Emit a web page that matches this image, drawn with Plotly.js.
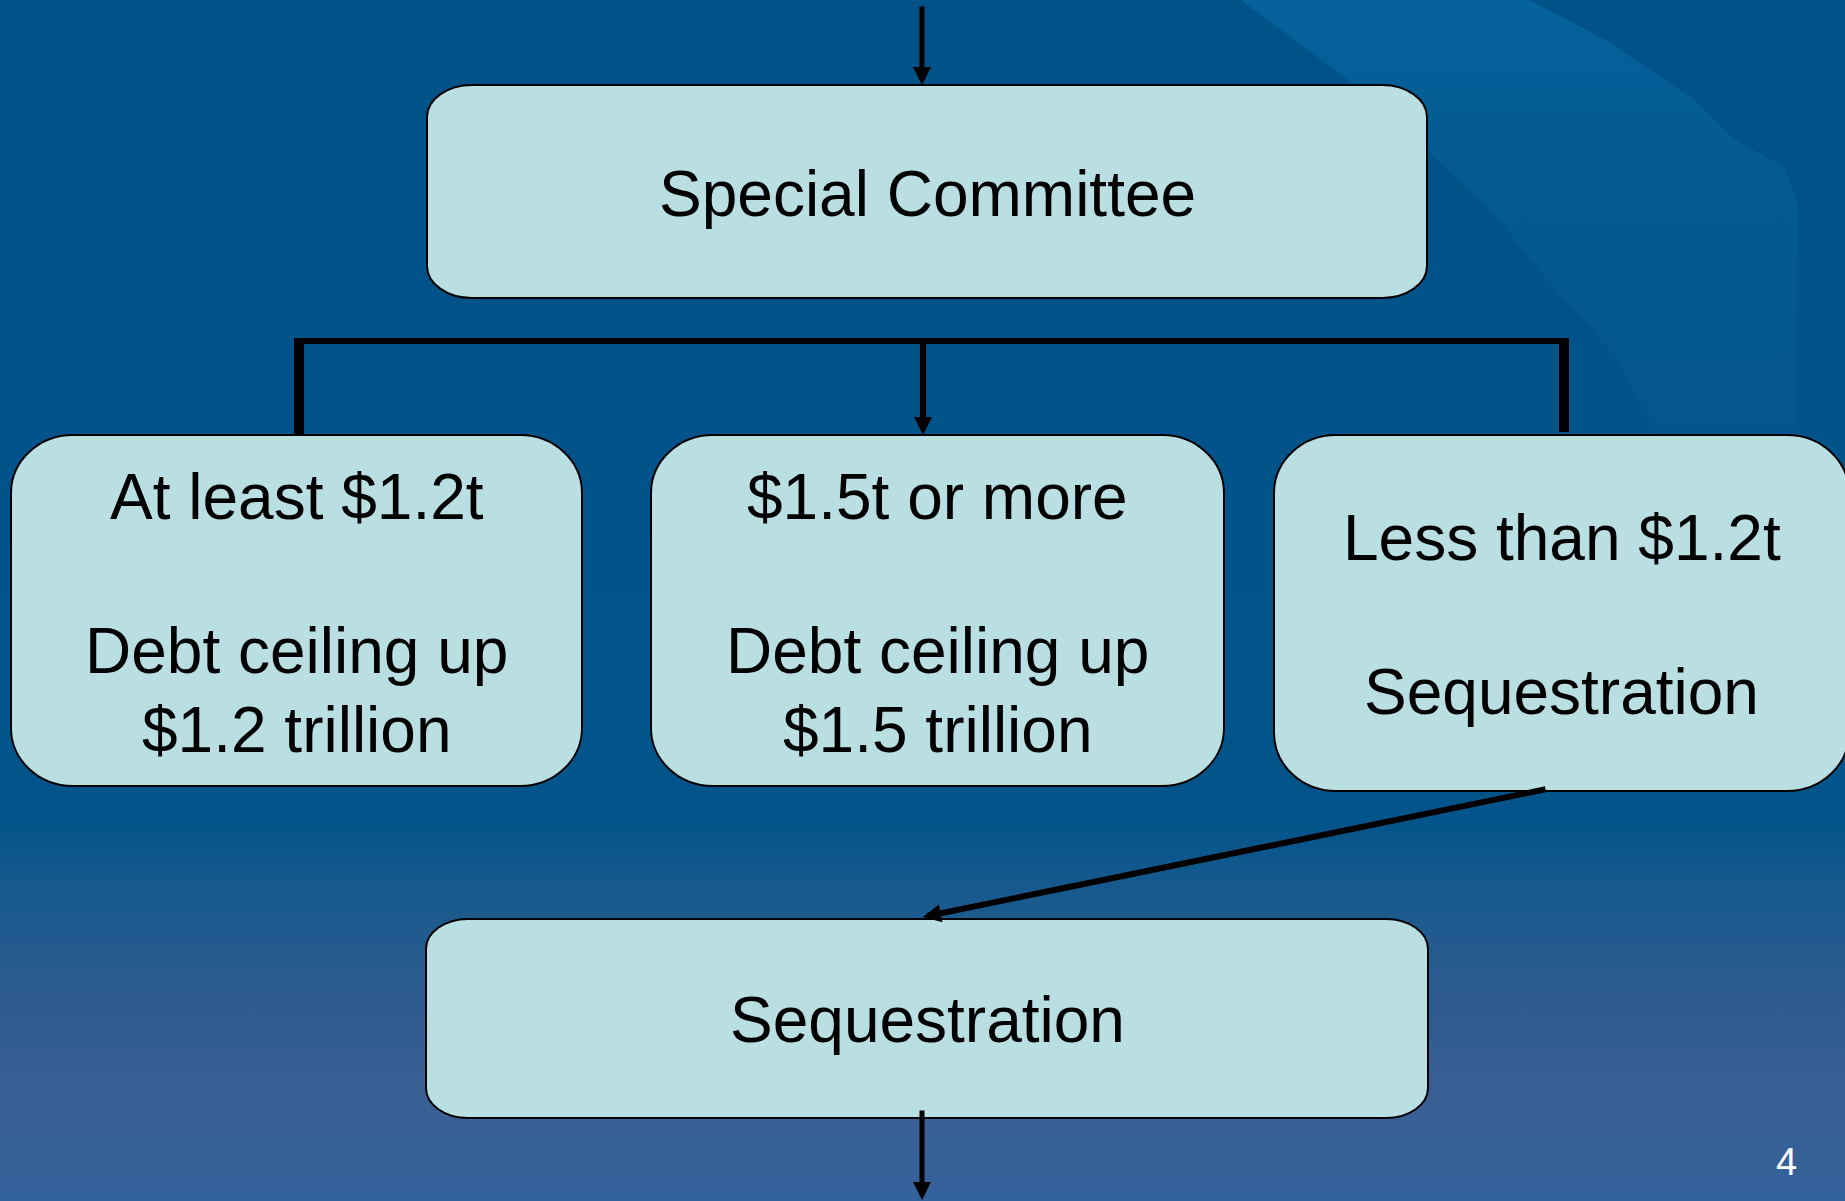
<!DOCTYPE html>
<html>
<head>
<meta charset="utf-8">
<script src="https://cdn.plot.ly/plotly-3.0.1.min.js"></script>
<style>
  html, body { margin: 0; padding: 0; background: #02528A; overflow: hidden; }
  #chart { width: 1845px; height: 1201px; }
</style>
</head>
<body>
<div id="chart"></div>
<script>
// ---------- DATA (text content) ----------
const boxTitles  = ["Special Committee", "At least $1.2t", "$1.5t or more", "Less than $1.2t", "Sequestration"];
const boxDetails = [[], ["Debt ceiling up", "$1.2 trillion"], ["Debt ceiling up", "$1.5 trillion"], ["Sequestration"], []];
const slideNumber = "4";

// ---------- GEOMETRY / STYLE (layout only) ----------
const W = 1845, H = 1201;
const FONT = "Liberation Sans, Arial, Helvetica, sans-serif";
const BOX_FILL = "#B9DFE3";

const boxGeom = [
  {x0: 427,  x1: 1427, y0: 85,  y1: 298,  rx: 45, ry: 32, lineY: [194]},
  {x0: 11,   x1: 582,  y0: 435, y1: 786,  rx: 62, ry: 58, lineY: [497, 651, 730]},
  {x0: 651,  x1: 1224, y0: 435, y1: 786,  rx: 62, ry: 58, lineY: [497, 651, 730]},
  {x0: 1274, x1: 1849, y0: 435, y1: 791,  rx: 62, ry: 58, lineY: [538, 692]},
  {x0: 426,  x1: 1428, y0: 919, y1: 1118, rx: 42, ry: 30, lineY: [1020]}
];

const connectorGeom = [
  {x0: 299,  y0: 341, x1: 1564, y1: 341, w: 6},
  {x0: 299,  y0: 338, x1: 299,  y1: 437, w: 10},
  {x0: 1564, y0: 338, x1: 1564, y1: 432, w: 10}
];

const arrowGeom = [
  {x: 922, y: 85,   ax: 922,  ay: 5,    w: 5, s: 0.72},
  {x: 923, y: 435,  ax: 923,  ay: 341,  w: 6, s: 0.6},
  {x: 923, y: 917,  ax: 1547, ay: 789,  w: 6, s: 0.6},
  {x: 922, y: 1200, ax: 922,  ay: 1109, w: 5, s: 0.72}
];

// background streak outlines (decoration)
const faintX = [1241, 1352, 1430, 1488, 1550, 1611, 1661, 1700, 1740, 1797, 1797, 1784, 1735, 1694, 1611, 1529, 1241];
const faintY = [0, 83, 153, 207, 283, 350, 440, 520, 600, 600, 200, 167, 140, 100, 43, 0, 0];
const bandX  = [1241, 1352, 1430, 1488, 1550, 1611, 1661, 1797, 1797, 1784, 1735, 1694, 1611, 1529, 1241];
const bandY  = [0, 83, 153, 207, 283, 350, 440, 440, 200, 167, 140, 100, 43, 0, 0];

// ---------- BUILD ----------
function roundRectPath(b) {
  const k = 0.5523;
  const {x0, x1, y0, y1, rx, ry} = b;
  return [
    `M${x0 + rx},${y0}`,
    `L${x1 - rx},${y0}`,
    `C${x1 - rx + k * rx},${y0} ${x1},${y0 + ry - k * ry} ${x1},${y0 + ry}`,
    `L${x1},${y1 - ry}`,
    `C${x1},${y1 - ry + k * ry} ${x1 - rx + k * rx},${y1} ${x1 - rx},${y1}`,
    `L${x0 + rx},${y1}`,
    `C${x0 + rx - k * rx},${y1} ${x0},${y1 - ry + k * ry} ${x0},${y1 - ry}`,
    `L${x0},${y0 + ry}`,
    `C${x0},${y0 + ry - k * ry} ${x0 + rx - k * rx},${y0} ${x0 + rx},${y0}`,
    'Z'
  ].join(' ');
}

const traces = [
  {
    type: 'scatter', mode: 'none', x: [0, W, W, 0, 0], y: [0, 0, H, H, 0],
    fill: 'toself', hoverinfo: 'skip', showlegend: false,
    fillgradient: {
      type: 'vertical', start: 0, stop: H,
      colorscale: [[0, '#02528A'], [0.68, '#02548A'], [0.75, '#1A5A8E'], [0.83, '#2D5B8F'], [0.91, '#3A5F95'], [1, '#33629A']]
    }
  },
  {
    type: 'scatter', mode: 'none', hoverinfo: 'skip', showlegend: false, fill: 'toself',
    x: faintX, y: faintY,
    fillgradient: {
      type: 'vertical', start: 0, stop: 600,
      colorscale: [[0, 'rgba(40,140,200,0.06)'], [0.6, 'rgba(40,140,200,0.05)'], [1, 'rgba(40,140,200,0)']]
    }
  },
  {
    type: 'scatter', mode: 'none', hoverinfo: 'skip', showlegend: false, fill: 'toself',
    x: bandX, y: bandY,
    fillgradient: {
      type: 'vertical', start: 0, stop: 440,
      colorscale: [[0, 'rgba(10,150,210,0.2)'], [0.3, 'rgba(10,150,210,0.09)'], [0.6, 'rgba(10,150,210,0.03)'], [1, 'rgba(10,150,210,0)']]
    }
  }
];

const shapes = [];
connectorGeom.forEach(c => shapes.push({
  type: 'line', xref: 'x', yref: 'y', x0: c.x0, y0: c.y0, x1: c.x1, y1: c.y1,
  line: {color: '#000000', width: c.w}, layer: 'above'
}));
boxGeom.forEach(b => shapes.push({
  type: 'path', xref: 'x', yref: 'y', path: roundRectPath(b),
  fillcolor: BOX_FILL, line: {color: '#000000', width: 2}, layer: 'above'
}));

const annotations = [];
boxGeom.forEach((b, i) => {
  const lines = [boxTitles[i]].concat(boxDetails[i]);
  lines.forEach((txt, j) => {
    annotations.push({
      xref: 'x', yref: 'y', x: (b.x0 + b.x1) / 2, y: b.lineY[j],
      text: txt, showarrow: false, xanchor: 'center', yanchor: 'middle',
      font: {family: FONT, size: 64, color: '#000000'}
    });
  });
});
arrowGeom.forEach(a => annotations.push({
  xref: 'x', yref: 'y', axref: 'x', ayref: 'y', x: a.x, y: a.y, ax: a.ax, ay: a.ay,
  text: '', showarrow: true, arrowhead: 2, arrowsize: a.s, arrowwidth: a.w,
  arrowcolor: '#000000', standoff: 0, startstandoff: 0
}));
annotations.push({
  xref: 'x', yref: 'y', x: 1786, y: 1162, text: slideNumber, showarrow: false,
  xanchor: 'center', yanchor: 'middle', font: {family: FONT, size: 38, color: '#FFFFFF'}
});

const layout = {
  width: W, height: H,
  margin: {l: 0, r: 0, t: 0, b: 0, pad: 0},
  paper_bgcolor: '#02528A', plot_bgcolor: '#02528A',
  showlegend: false,
  xaxis: {range: [0, W], visible: false, fixedrange: true},
  yaxis: {range: [H, 0], visible: false, fixedrange: true},
  shapes: shapes,
  annotations: annotations
};

Plotly.newPlot('chart', traces, layout, {displayModeBar: false, staticPlot: true, responsive: false});
</script>
</body>
</html>
